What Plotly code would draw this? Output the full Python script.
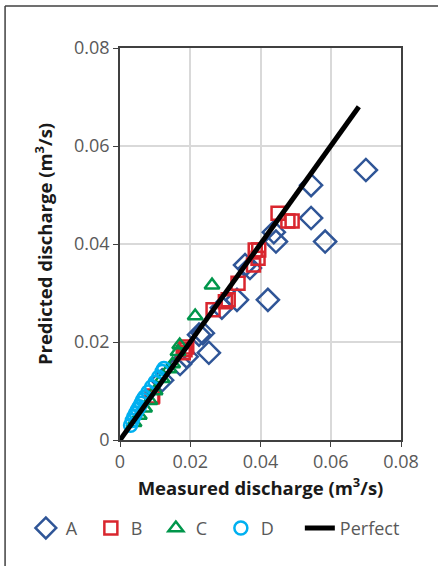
import plotly.graph_objects as go

# Measured vs predicted discharge (m3/s) for four data sets
a_measured = [0.0120, 0.0171, 0.0190, 0.0225, 0.0236, 0.0253, 0.0290, 0.0333, 0.0356, 0.0370,
              0.0421, 0.0438, 0.0444, 0.0544, 0.0544, 0.0584, 0.0700]
a_predicted = [0.0122, 0.0155, 0.0170, 0.0215, 0.0218, 0.0178, 0.0270, 0.0286, 0.0357, 0.0351,
               0.0286, 0.0424, 0.0405, 0.0520, 0.0453, 0.0405, 0.0551]

b_measured = [0.0091, 0.0093, 0.0180, 0.0185, 0.0190, 0.0265, 0.0300, 0.0308, 0.0336, 0.0380,
              0.0385, 0.0395, 0.0393, 0.0450, 0.0478, 0.0490]
b_predicted = [0.0088, 0.0090, 0.0178, 0.0184, 0.0190, 0.0266, 0.0282, 0.0286, 0.0320, 0.0357,
               0.0388, 0.0388, 0.0371, 0.0463, 0.0447, 0.0447]

c_measured = [0.0040, 0.0055, 0.0070, 0.0085, 0.0100, 0.0120, 0.0140, 0.0150, 0.0165, 0.0170,
              0.0214, 0.0262]
c_predicted = [0.0035, 0.0050, 0.0065, 0.0080, 0.0100, 0.0125, 0.0145, 0.0155, 0.0180, 0.0194,
               0.0253, 0.0316]

d_measured = [0.0030, 0.0035, 0.0040, 0.0045, 0.0050, 0.0055, 0.0060, 0.0065, 0.0070, 0.0080,
              0.0090, 0.0100, 0.0110, 0.0120, 0.0125]
d_predicted = [0.0030, 0.0040, 0.0048, 0.0055, 0.0062, 0.0068, 0.0075, 0.0082, 0.0088, 0.0098,
               0.0108, 0.0118, 0.0128, 0.0140, 0.0146]

perfect_x = [0.0, 0.068]
perfect_y = [0.0, 0.068]

tick_vals = [0, 0.02, 0.04, 0.06, 0.08]
tick_text = ["0", "0.02", "0.04", "0.06", "0.08"]

FONT = "Open Sans"
AXIS_GREY = "#404040"
LABEL_GREY = "#595959"

fig = go.Figure()


def open_marker(symbol, color, size, width=2.5):
    # "-open" symbols take their outline colour from marker.color
    return dict(symbol=symbol, size=size, color=color, line=dict(width=width))


fig.add_trace(go.Scatter(x=a_measured, y=a_predicted, mode="markers", name="A",
                         marker=open_marker("diamond-open", "#2F5597", 17)))
fig.add_trace(go.Scatter(x=b_measured, y=b_predicted, mode="markers", name="B",
                         marker=open_marker("square-open", "#D9262E", 13)))
fig.add_trace(go.Scatter(x=c_measured, y=c_predicted, mode="markers", name="C",
                         marker=open_marker("triangle-up-open", "#00964B", 13)))
fig.add_trace(go.Scatter(x=d_measured, y=d_predicted, mode="markers", name="D",
                         marker=open_marker("circle-open", "#00B0F0", 13)))
fig.add_trace(go.Scatter(x=perfect_x, y=perfect_y, mode="lines", name="Perfect",
                         line=dict(color="black", width=5), legend="legend2"))

axis_common = dict(
    range=[0, 0.08],
    tickvals=tick_vals,
    ticktext=tick_text,
    showgrid=True,
    gridcolor="#D9D9D9",
    gridwidth=1.5,
    zeroline=False,
    showline=True,
    linecolor=AXIS_GREY,
    linewidth=1.5,
    mirror=True,
    ticks="outside",
    ticklen=5,
    tickcolor=AXIS_GREY,
    tickfont=dict(family=FONT, size=18, color=LABEL_GREY),
)

fig.update_xaxes(
    **axis_common,
    title=dict(text="Measured discharge (m<sup>3</sup>/s)",
               font=dict(family=FONT, size=18.5, color="#1a1a1a", weight="bold"),
               standoff=8),
)
fig.update_yaxes(
    **axis_common,
    title=dict(text="Predicted discharge (m<sup>3</sup>/s)",
               font=dict(family=FONT, size=18.5, color="#1a1a1a", weight="bold"),
               standoff=17),
)

# Outer frame (left and top edges)
frame = dict(type="line", xref="paper", yref="paper",
             line=dict(color=AXIS_GREY, width=1.5))
fig.add_shape(x0=-0.409, x1=-0.409, y0=-0.33, y1=1.107, **frame)
fig.add_shape(x0=-0.409, x1=1.15, y0=1.107, y1=1.107, **frame)

legend_common = dict(
    orientation="h",
    yanchor="top",
    xanchor="left",
    y=-0.178,
    font=dict(family=FONT, size=18, color=LABEL_GREY),
    itemsizing="trace",
    tracegroupgap=0,
    bgcolor="rgba(0,0,0,0)",
)

fig.update_layout(
    width=438,
    height=566,
    margin=dict(l=120, r=37, t=48, b=126),
    paper_bgcolor="white",
    plot_bgcolor="white",
    showlegend=True,
    legend=dict(**legend_common, x=-0.335, entrywidth=20),
    legend2=dict(**legend_common, x=0.64),
)

fig.write_html("out.html")
